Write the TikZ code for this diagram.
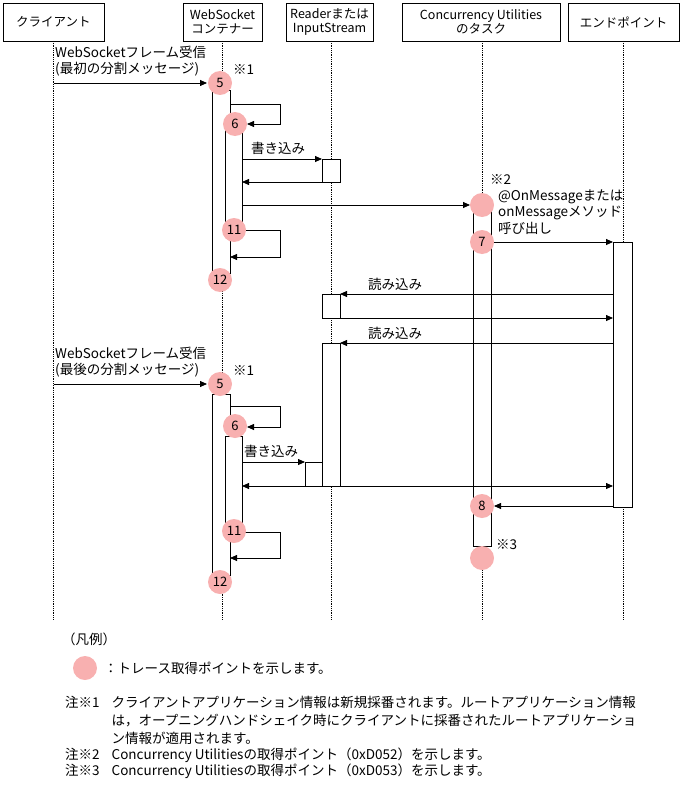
\documentclass[tikz,border=0pt]{standalone}
\usepackage{fontspec}
\setmainfont{Noto Sans CJK JP}
\usetikzlibrary{arrows.meta}
\definecolor{pt}{HTML}{F8B0B0}
\tikzset{
 hdr/.style={draw,thick,align=center,inner sep=0pt,font=\fontsize{12.5}{14.5}\selectfont},
 life/.style={densely dotted,thick},
 bar/.style={draw,thick,fill=white},
 msg/.style={thick,-{Triangle[length=7pt,width=6pt]}},
 tp/.style={circle,fill=pt,minimum size=24pt,inner sep=0pt,font=\fontsize{13}{14}\selectfont},
 lbl/.style={font=\fontsize{13.5}{15}\selectfont,inner sep=0pt,anchor=west},
}
\begin{document}
\begin{tikzpicture}[x=1pt,y=-1pt]
\useasboundingbox (0,0) rectangle (683,789);
% headers
\node[hdr,minimum width=101pt,minimum height=38pt] (hc) at (53.5,22) {クライアント};
\node[hdr,minimum width=79pt,minimum height=38pt] (hw) at (222.5,22) {WebSocket\\コンテナー};
\node[hdr,minimum width=87pt,minimum height=38pt] (hr) at (329.5,22) {Readerまたは\\InputStream};
\node[hdr,minimum width=158pt,minimum height=38pt] (hu) at (481,22) {Concurrency Utilities\\のタスク};
\node[hdr,minimum width=111pt,minimum height=38pt] (he) at (623.5,22) {エンドポイント};
\foreach \x in {53.5,222.5,331,482,623}{\draw[life] (\x,41) -- (\x,620);}
% bars
\draw[bar] (212,90) rectangle (230,273);
\draw[bar] (225,128) rectangle (242,232);
\draw[bar] (212,394) rectangle (230,575);
\draw[bar] (225,436) rectangle (242,530);
\draw[bar] (473,205) rectangle (491,546);
\draw[bar] (613,242) rectangle (632,507);
\draw[bar] (322,159) rectangle (340,182);
\draw[bar] (322,294) rectangle (340,318);
\draw[bar] (322,343) rectangle (340,486);
\draw[bar] (305,462) rectangle (322,486);
% first block
\draw[msg] (53.5,83) -- (207,83);
\node[lbl,anchor=south west] at (55,78) {\begin{tabular}{@{}l@{}}WebSocketフレーム受信\\(最初の分割メッセージ)\end{tabular}};
\node[lbl] at (233,70) {※1};
\draw[msg] (230,104) -- (280,104) -- (280,124) -- (247,124);
\node[lbl,anchor=south west] at (251,155) {書き込み};
\draw[msg] (242,159) -- (322,159);
\draw[msg] (322,182) -- (242,182);
\draw[msg] (242,205) -- (470,205);
\draw[msg] (245,230) -- (280,230) -- (280,257) -- (230,257);
\node[lbl] at (490,180) {※2};
\node[lbl,anchor=north west] at (498,190) {\begin{tabular}{@{}l@{}}@OnMessageまたは\\[1pt]onMessageメソッド\\[1pt]呼び出し\end{tabular}};
\draw[msg] (491,242) -- (613,242);
\draw[msg] (613,294) -- (340,294);
\node[lbl,anchor=south west] at (368,291) {読み込み};
\draw[msg] (340,318) -- (613,318);
\draw[msg] (613,343) -- (340,343);
\node[lbl,anchor=south west] at (368,340) {読み込み};
% second block
\draw[msg] (53.5,384) -- (207,384);
\node[lbl,anchor=south west] at (55,379) {\begin{tabular}{@{}l@{}}WebSocketフレーム受信\\(最後の分割メッセージ)\end{tabular}};
\node[lbl] at (233,371) {※1};
\draw[msg] (230,406) -- (280,406) -- (280,427) -- (247,427);
\node[lbl,anchor=south west] at (244,458) {書き込み};
\draw[msg] (242,462) -- (305,462);
\draw[msg] (305,486) -- (242,486);
\draw[msg] (340,486) -- (613,486);
\draw[msg] (613,506) -- (494,506);
\draw[msg] (245,532) -- (280,532) -- (280,558) -- (230,558);
\node[lbl] at (496,545) {※3};
% trace points
\node[tp] (p5a) at (220,83) {5};
\node[tp] (p6a) at (235,124) {6};
\node[tp] (p11a) at (234,230) {11};
\node[tp] (p12a) at (220,280) {12};
\node[tp] (pn2) at (482,205) {};
\node[tp] (p7) at (482,242) {7};
\node[tp] (p5b) at (220,384) {5};
\node[tp] (p6b) at (235,426) {6};
\node[tp] (p11b) at (234,531) {11};
\node[tp] (p12b) at (220,582) {12};
\node[tp] (p8) at (482,506) {8};
\node[tp] (pn3) at (482,558) {};
% legend
\node[lbl] at (62,639) {（凡例）};
\node[tp] (leg) at (85,668) {};
\node[lbl] at (104,668) {：トレース取得ポイントを示します。};
\node[lbl,anchor=north west] at (65,696) {\begin{tabular}{@{}l@{\hspace{12pt}}l@{}}
注※1 & クライアントアプリケーション情報は新規採番されます。ルートアプリケーション情報\\[2pt]
 & は，オープニングハンドシェイク時にクライアントに採番されたルートアプリケーショ\\[2pt]
 & ン情報が適用されます。\\
注※2 & Concurrency Utilitiesの取得ポイント（0xD052）を示します。\\
注※3 & Concurrency Utilitiesの取得ポイント（0xD053）を示します。
\end{tabular}};
\end{tikzpicture}
\end{document}
